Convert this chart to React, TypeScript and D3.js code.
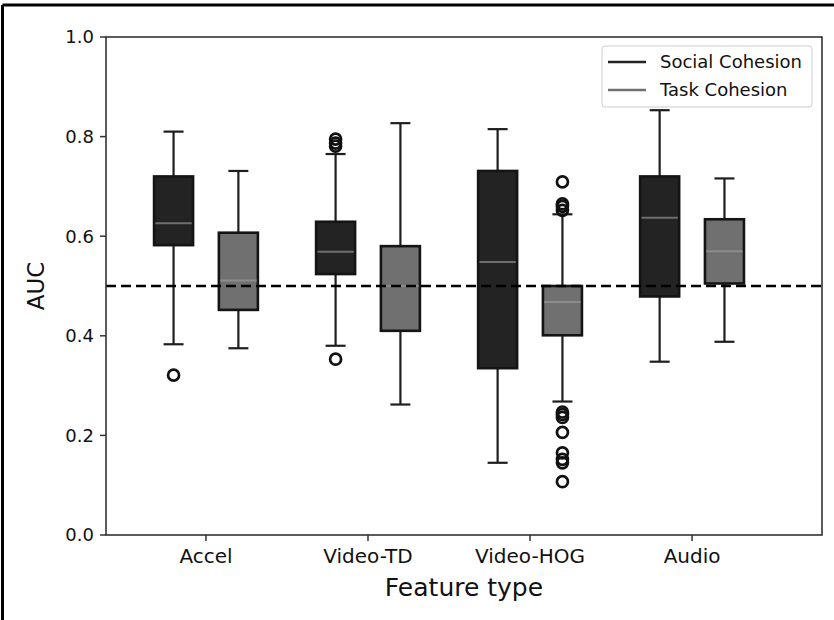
import * as d3 from 'd3';

const categories = ['Accel', 'Video-TD', 'Video-HOG', 'Audio'];
const seriesNames = ['Social Cohesion', 'Task Cohesion'];

// five-number summaries
const socialLow = [0.383, 0.38, 0.145, 0.348];
const socialQ1 = [0.582, 0.524, 0.335, 0.479];
const socialMedian = [0.626, 0.569, 0.548, 0.637];
const socialQ3 = [0.72, 0.629, 0.731, 0.72];
const socialHigh = [0.81, 0.765, 0.815, 0.853];
const socialOutliers = [[0.321], [0.795, 0.787, 0.781, 0.353], [], []];

const taskLow = [0.375, 0.262, 0.268, 0.388];
const taskQ1 = [0.452, 0.41, 0.401, 0.505];
const taskMedian = [0.511, 0.5, 0.468, 0.57];
const taskQ3 = [0.607, 0.58, 0.5, 0.634];
const taskHigh = [0.731, 0.827, 0.644, 0.716];
const taskOutliers = [
  [],
  [],
  [0.709, 0.665, 0.66, 0.652, 0.247, 0.242, 0.236, 0.206, 0.165, 0.152, 0.145, 0.107],
  [],
];

const chance = 0.5;
const yTicks = [0, 0.2, 0.4, 0.6, 0.8, 1.0];

const W = 834;
const H = 620;
const FONT = 'DejaVu Sans, sans-serif';

const fills = ['#232323', '#707070'];
const medianColors = ['#6e6e6e', '#8c8c8c'];

export default function App() {
  const x = d3.scaleLinear().domain([-0.617, 3.802]).range([106, 822]);
  const y = d3.scaleLinear().domain([0, 1]).range([535, 37]);
  const fmt = d3.format('.1f');

  const offset = 0.2; // dodge in category units
  const boxW = 39;
  const capW = 20;

  const series = [
    { low: socialLow, q1: socialQ1, med: socialMedian, q3: socialQ3, high: socialHigh, out: socialOutliers },
    { low: taskLow, q1: taskQ1, med: taskMedian, q3: taskQ3, high: taskHigh, out: taskOutliers },
  ];

  const [x0, x1] = x.range();
  const [yb, yt] = y.range();

  return (
    <svg
      width={W}
      height={H}
      style={{ position: 'absolute', left: 0, top: 0, background: '#fff' }}
      fontFamily={FONT}
    >
      {/* outer frame (top and left only) */}
      <line x1={2.5} x2={W} y1={5} y2={5} stroke="#000" strokeWidth={3} />
      <line x1={2.5} x2={2.5} y1={5} y2={H} stroke="#000" strokeWidth={3} />

      {/* boxes */}
      {series.map((s, si) =>
        categories.map((c, i) => {
          const cx = x(i + (si === 0 ? -offset : offset));
          return (
            <g key={`${si}-${c}`}>
              <line x1={cx} x2={cx} y1={y(s.q3[i])} y2={y(s.high[i])} stroke="#1e1e1e" strokeWidth={2.2} />
              <line x1={cx} x2={cx} y1={y(s.q1[i])} y2={y(s.low[i])} stroke="#1e1e1e" strokeWidth={2.2} />
              <line x1={cx - capW / 2} x2={cx + capW / 2} y1={y(s.high[i])} y2={y(s.high[i])} stroke="#1e1e1e" strokeWidth={2.2} />
              <line x1={cx - capW / 2} x2={cx + capW / 2} y1={y(s.low[i])} y2={y(s.low[i])} stroke="#1e1e1e" strokeWidth={2.2} />
              <rect
                x={cx - boxW / 2}
                y={y(s.q3[i])}
                width={boxW}
                height={y(s.q1[i]) - y(s.q3[i])}
                fill={fills[si]}
                stroke="#141414"
                strokeWidth={2.6}
              />
              <line
                x1={cx - boxW / 2 + 1.3}
                x2={cx + boxW / 2 - 1.3}
                y1={y(s.med[i])}
                y2={y(s.med[i])}
                stroke={medianColors[si]}
                strokeWidth={2}
              />
              {s.out[i].map((v, k) => (
                <circle key={k} cx={cx} cy={y(v)} r={5.5} fill="none" stroke="#111" strokeWidth={2.7} />
              ))}
            </g>
          );
        }),
      )}

      {/* chance line */}
      <line
        x1={x0}
        x2={x1}
        y1={y(chance)}
        y2={y(chance)}
        stroke="#000"
        strokeWidth={2.6}
        strokeDasharray="10,5"
      />

      {/* spines */}
      <rect x={x0} y={yt} width={x1 - x0} height={yb - yt} fill="none" stroke="#333" strokeWidth={1.6} />

      {/* y axis */}
      {yTicks.map(t => (
        <g key={t} transform={`translate(0,${y(t)})`}>
          <line x1={x0 - 6} x2={x0} stroke="#333" strokeWidth={1.5} />
          <text x={x0 - 12} dy="0.35em" textAnchor="end" fontSize={18} fill="#111">
            {fmt(t)}
          </text>
        </g>
      ))}
      <text
        transform={`translate(36,${(yt + yb) / 2}) rotate(-90)`}
        textAnchor="middle"
        dy="0.35em"
        fontSize={23}
        fill="#111"
      >
        AUC
      </text>

      {/* x axis */}
      {categories.map((c, i) => (
        <g key={c} transform={`translate(${x(i)},${yb})`}>
          <line y1={0} y2={6} stroke="#333" strokeWidth={1.5} />
          <text y={28} textAnchor="middle" fontSize={20} fill="#111">
            {c}
          </text>
        </g>
      ))}
      <text x={(x0 + x1) / 2} y={596} textAnchor="middle" fontSize={25} fill="#111">
        Feature type
      </text>

      {/* legend */}
      <g transform="translate(602,46)">
        <rect width={210} height={61} rx={3} fill="#fff" stroke="#ccc" strokeWidth={1} />
        {seriesNames.map((n, i) => (
          <g key={n} transform={`translate(0,${16 + i * 28})`}>
            <line x1={6} x2={44} stroke={i === 0 ? '#222' : '#707070'} strokeWidth={2.5} />
            <text x={58} dy="0.35em" fontSize={18} fill="#111">
              {n}
            </text>
          </g>
        ))}
      </g>
    </svg>
  );
}
